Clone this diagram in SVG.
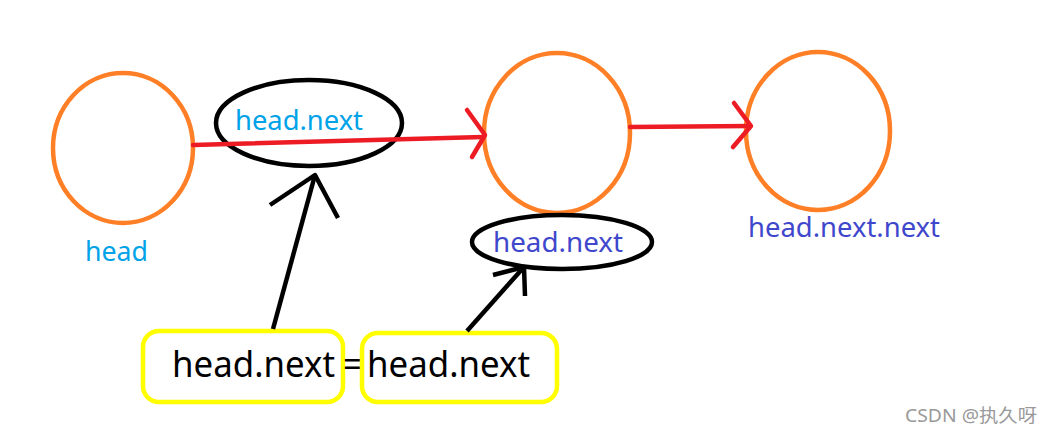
<svg xmlns="http://www.w3.org/2000/svg" width="1052" height="433" viewBox="0 0 1052 433">
<style>
.node{fill:none;stroke:#ff7f27;stroke-width:4.5}
.red{fill:none;stroke:#ed1c24;stroke-width:4.5;stroke-linecap:round;stroke-linejoin:round}
.blk{fill:none;stroke:#000;stroke-width:4.5;stroke-linecap:butt;stroke-linejoin:round}
.box{fill:none;stroke:#ffff00;stroke-width:4.5}
text{font-family:"Noto Sans","Liberation Sans",sans-serif}
.lb{fill:#00a2e8;font-size:28px}
.pu{fill:#3f48cc;font-size:28px}
.big{fill:#000;font-size:37px}
</style>
<rect width="1052" height="433" fill="#fff"/>
<g id="node-head">
<ellipse class="node" cx="123" cy="148" rx="70" ry="75"/>
<text class="lb" x="85" y="261" textLength="63" lengthAdjust="spacingAndGlyphs">head</text>
</g>
<g id="node-next">
<ellipse class="node" cx="557" cy="133" rx="73" ry="80"/>
</g>
<g id="node-nextnext">
<ellipse class="node" cx="818" cy="131" rx="72" ry="79"/>
<text class="pu" x="748" y="237" textLength="192" lengthAdjust="spacingAndGlyphs">head.next.next</text>
</g>
<g id="label-top">
<ellipse fill="none" stroke="#000" stroke-width="4.5" cx="309" cy="123" rx="93" ry="43"/>
<text class="lb" x="235" y="130" textLength="128" lengthAdjust="spacingAndGlyphs">head.next</text>
</g>
<g id="label-bottom">
<ellipse fill="none" stroke="#000" stroke-width="4.5" cx="562" cy="242" rx="90" ry="27"/>
<text class="pu" x="493" y="252" textLength="130" lengthAdjust="spacingAndGlyphs">head.next</text>
</g>
<g id="box-left">
<rect class="box" x="143" y="331" width="200" height="71" rx="16"/>
<text class="big" x="172" y="377" textLength="163" lengthAdjust="spacingAndGlyphs">head.next</text>
</g>
<g id="equals">
<text class="big" x="343" y="377" textLength="19" lengthAdjust="spacingAndGlyphs">=</text>
</g>
<g id="box-right">
<rect class="box" x="362" y="333" width="195" height="69" rx="16"/>
<text class="big" x="367" y="377" textLength="163" lengthAdjust="spacingAndGlyphs">head.next</text>
</g>
<g id="connectors">
<polyline class="red" points="193,145 483,137"/>
<polyline class="red" points="467,110 485,135 472,157"/>
<polyline class="red" points="630,127 750,126"/>
<polyline class="red" points="734,103 751,126 733,147"/>
<line class="blk" x1="273" y1="329" x2="315" y2="175"/>
<polyline class="blk" points="270,205 315,175 338,218"/>
<line class="blk" x1="467" y1="331" x2="524" y2="267"/>
<polyline class="blk" points="493,275 524,267 525,296"/>
</g>
<text x="905" y="422" fill="#999" font-size="18" textLength="132" lengthAdjust="spacingAndGlyphs" style="font-family:'Noto Sans','Noto Sans CJK SC',sans-serif">CSDN @执久呀</text>
</svg>
